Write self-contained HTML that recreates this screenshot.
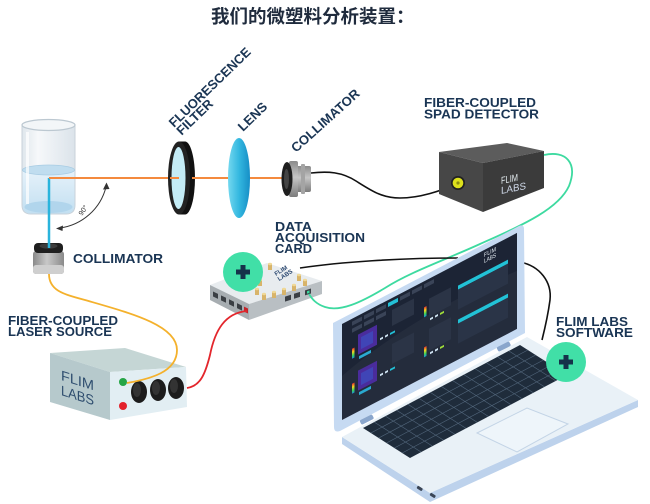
<!DOCTYPE html>
<html><head><meta charset="utf-8">
<style>
html,body{margin:0;padding:0;background:#fff;}
svg{display:block;}
.l{font-family:"Liberation Sans",Arial,sans-serif;font-weight:bold;fill:#1a3554;}
</style></head><body>
<svg width="650" height="504" viewBox="0 0 650 504" xmlns="http://www.w3.org/2000/svg">
<defs>
<linearGradient id="lens" x1="0" x2="1" y1="0" y2="0"><stop offset="0" stop-color="#74d8ef"/><stop offset="0.5" stop-color="#34b8e0"/><stop offset="1" stop-color="#168ec6"/></linearGradient>
<linearGradient id="glass" x1="0" x2="1"><stop offset="0" stop-color="#dfe6ec"/><stop offset="0.3" stop-color="#f6f8fa"/><stop offset="1" stop-color="#dbe3ea"/></linearGradient>
<linearGradient id="water" x1="0" y1="0" x2="0" y2="1"><stop offset="0" stop-color="#e6f2fa"/><stop offset="1" stop-color="#c2dff1"/></linearGradient>
<linearGradient id="coll" x1="0" y1="0" x2="0" y2="1"><stop offset="0" stop-color="#8a8a8a"/><stop offset="0.45" stop-color="#c6c6c6"/><stop offset="1" stop-color="#7c7c7c"/></linearGradient>
<linearGradient id="collv" x1="0" y1="0" x2="1" y2="0"><stop offset="0" stop-color="#8a8a8a"/><stop offset="0.45" stop-color="#c8c8c8"/><stop offset="1" stop-color="#8a8a8a"/></linearGradient>
<linearGradient id="rb" x1="0" y1="0" x2="0" y2="1"><stop offset="0" stop-color="#e83030"/><stop offset="0.35" stop-color="#f2d21c"/><stop offset="0.7" stop-color="#3bd35a"/><stop offset="1" stop-color="#1b8fd8"/></linearGradient>
</defs>

<!-- Title -->
<text x="211" y="23" font-family="'Liberation Sans','Noto Sans CJK SC',sans-serif" font-weight="bold" font-size="18.5" fill="#1f2b3d">我们的微塑料分析装置：</text>

<!-- Beaker -->
<path d="M22,125 L22,205 Q22,214 31,214 L66,214 Q75,214 75,205 L75,125 Z" fill="url(#glass)" stroke="#c8d2da" stroke-width="1"/>
<path d="M22.5,170 L22.5,205 Q22.5,213.5 31,213.5 L66,213.5 Q74.5,213.5 74.5,205 L74.5,170 Z" fill="url(#water)"/>
<ellipse cx="48.5" cy="207" rx="24" ry="6" fill="#b1d5ec"/>
<ellipse cx="48.5" cy="170" rx="26" ry="5" fill="#c0ddef" stroke="#a8cce3" stroke-width="0.8"/>
<ellipse cx="48.5" cy="125" rx="26.5" ry="5.5" fill="#f3f6f8" stroke="#bcc8d1" stroke-width="1.2"/>
<rect x="26" y="132" width="3" height="72" fill="#ffffff" opacity="0.7"/>

<!-- Bottom collimator -->
<rect x="33" y="251" width="31" height="23" rx="3" fill="url(#collv)"/>
<rect x="33" y="265" width="31" height="9" rx="3" fill="#cfcfcf"/>
<rect x="34" y="243" width="29" height="10" rx="4" fill="#1f1f1f"/>
<ellipse cx="48.5" cy="246" rx="9" ry="2.6" fill="#3d3d3d"/>

<!-- Beams -->
<line x1="49" y1="178" x2="49" y2="248" stroke="#2ab4dc" stroke-width="2.5"/>
<line x1="49" y1="178" x2="180" y2="178" stroke="#f48a3e" stroke-width="2"/>

<!-- 90 deg arc -->
<path d="M60,228 A55,55 0 0 0 106,187" fill="none" stroke="#333" stroke-width="1"/>
<polygon points="56,228.5 63,225.5 62.5,231" fill="#333"/>
<polygon points="106.5,182.5 103,189.5 109.5,189" fill="#333"/>
<text x="0" y="0" font-family="Liberation Sans,sans-serif" font-size="7" fill="#333" transform="translate(82,216) rotate(-55)">90°</text>

<!-- Filter -->
<ellipse cx="185" cy="178" rx="10" ry="36.5" fill="#111"/>
<rect x="179" y="141.5" width="6" height="73" fill="#111"/>
<ellipse cx="179" cy="178" rx="11" ry="36.5" fill="#222"/>
<ellipse cx="178.5" cy="178" rx="7" ry="31" fill="#c4ecf6"/>
<line x1="170" y1="178" x2="179" y2="178" stroke="#f48a3e" stroke-width="2"/>
<line x1="192" y1="178" x2="239" y2="178" stroke="#f48a3e" stroke-width="2"/>

<!-- Lens -->
<ellipse cx="239" cy="178" rx="11" ry="40" fill="url(#lens)"/>
<line x1="250" y1="178" x2="285" y2="178" stroke="#f48a3e" stroke-width="2"/>

<!-- Right collimator -->
<rect x="290" y="166" width="21" height="26" rx="2" fill="url(#coll)"/>
<rect x="289" y="161" width="9" height="36" rx="2" fill="url(#coll)"/>
<rect x="301" y="164" width="4" height="30" rx="1" fill="#a4a4a4"/>
<ellipse cx="287" cy="179" rx="5.5" ry="17" fill="#1e1e1e"/>
<ellipse cx="286.5" cy="179" rx="2.5" ry="10" fill="#444"/>

<!-- Black cable collimator -> detector -->
<path d="M311,173 C328,171 342,172 356,181 C372,191 382,198 400,198 C420,198 440,191 457,184" fill="none" stroke="#111" stroke-width="1.6"/>

<!-- Detector -->
<polygon points="439,152 507,143 544,151 483,163" fill="#5c5c5c"/>
<polygon points="439,152 483,163 483,212 439,194" fill="#474747"/>
<polygon points="483,163 544,151 544,188 483,212" fill="#3b3b3b"/>
<circle cx="458" cy="183" r="7" fill="#222"/>
<circle cx="458" cy="183" r="5.3" fill="#dde11c"/>
<circle cx="458" cy="183" r="1.6" fill="#8a8d10"/>
<g transform="translate(501,184) skewY(-11)" font-family="Liberation Sans,sans-serif" font-size="10" fill="#e6eef2">
<text x="0" y="0" textLength="17" lengthAdjust="spacingAndGlyphs">FLIM</text>
<text x="0" y="10" textLength="25" lengthAdjust="spacingAndGlyphs" fill="#cfd8e8">LABS</text>
</g>

<!-- Laser source -->
<polygon points="50,353 125,348 186,367 110,372" fill="#c5d6d5"/>
<polygon points="50,353 110,372 110,420 50,402" fill="#b6c9cc"/>
<polygon points="110,372 186,367 187,407 110,420" fill="#e2eef3"/>
<g transform="translate(61,380) skewY(17.5)" font-family="Liberation Sans,sans-serif" font-size="14" fill="#2e4d6e">
<text x="0" y="0" textLength="33" lengthAdjust="spacingAndGlyphs">FLIM</text>
<text x="0" y="15" textLength="33" lengthAdjust="spacingAndGlyphs">LABS</text>
</g>
<circle cx="123" cy="382" r="4" fill="#25a546"/>
<circle cx="123" cy="406" r="4" fill="#e3212b"/>
<ellipse cx="139" cy="392" rx="8" ry="11" fill="#1c1c1c"/>
<ellipse cx="158" cy="390" rx="8" ry="11" fill="#1c1c1c"/>
<ellipse cx="176" cy="388" rx="8" ry="11" fill="#1c1c1c"/>
<ellipse cx="137" cy="390" rx="4" ry="7" fill="#333"/>
<ellipse cx="156" cy="388" rx="4" ry="7" fill="#333"/>
<ellipse cx="174" cy="386" rx="4" ry="7" fill="#333"/>

<!-- Data card -->
<polygon points="210,285 267,263 322,281 249,304" fill="#e8ecef"/>
<polygon points="210,285 249,304 249,320 210,300" fill="#a7adb1"/>
<polygon points="249,304 322,281 322,294 249,320" fill="#b9bfc3"/>
<g transform="translate(210,285) skewY(26)">
<rect x="3" y="5" width="5" height="5" fill="#3b3f44"/>
<rect x="11" y="5" width="5" height="5" fill="#3b3f44"/>
<rect x="19" y="5" width="5" height="5" fill="#3b3f44"/>
<rect x="27" y="5" width="5" height="5" fill="#3b3f44"/>
<rect x="34" y="5" width="4" height="5" fill="#c4242a"/>
</g>
<g transform="translate(249,304) skewY(-17.5)">
<rect x="36" y="4" width="6" height="5" fill="#3b3f44"/>
<rect x="45" y="4" width="6" height="5" fill="#3b3f44"/>
<rect x="56" y="4" width="6" height="5" fill="#3b3f44"/>
<rect x="58" y="5.5" width="2.5" height="2.5" fill="#3ddaa0"/>
</g>
<g transform="translate(276,276) rotate(-32)" font-family="Liberation Sans,sans-serif" font-size="6" font-weight="bold" fill="#2a4770">
<text x="0" y="0">FLIM</text><text x="0" y="6">LABS</text>
</g>
<g fill="#d8b46a">
<rect x="268" y="264" width="4" height="6"/><rect x="297" y="275" width="4" height="6"/><rect x="303" y="280" width="4" height="6"/>
<rect x="292" y="285" width="4" height="6"/><rect x="282" y="289" width="4" height="6"/><rect x="272" y="292" width="4" height="6"/>
<rect x="262" y="294" width="4" height="6"/><rect x="255" y="289" width="4" height="6"/><rect x="258" y="280" width="4" height="6"/>
</g>
<g fill="#f0d998">
<ellipse cx="270" cy="264" rx="2" ry="1.2"/><ellipse cx="299" cy="275" rx="2" ry="1.2"/><ellipse cx="305" cy="280" rx="2" ry="1.2"/>
<ellipse cx="294" cy="285" rx="2" ry="1.2"/><ellipse cx="284" cy="289" rx="2" ry="1.2"/><ellipse cx="274" cy="292" rx="2" ry="1.2"/>
<ellipse cx="264" cy="294" rx="2" ry="1.2"/><ellipse cx="257" cy="289" rx="2" ry="1.2"/><ellipse cx="260" cy="280" rx="2" ry="1.2"/>
</g>

<!-- Cables -->
<path d="M49,274 C49,290 62,294 85,300 C130,313 177,325 177,350 C177,372 150,379 127,383" fill="none" stroke="#f4b12c" stroke-width="1.8"/>
<path d="M187,388 C200,386 205,375 210,355 C215,330 225,313 247,311" fill="none" stroke="#e3262c" stroke-width="1.8"/>
<path d="M544,155 C566,150 578,163 569,186 C558,210 520,226 480,244 C445,260 410,272 385,288 C360,303 340,312 325,307 C316,304 312,299 309,294" fill="none" stroke="#3ddaa0" stroke-width="1.8"/>
<path d="M300,268 C340,262 400,258 458,258" fill="none" stroke="#111" stroke-width="1.6"/>
<path d="M520,262 C540,266 552,282 550,300 C548,315 545,328 542,340" fill="none" stroke="#111" stroke-width="1.6"/>

<!-- Laptop lid -->
<path d="M333,323 L519,226 Q524,224 524,229 L525,333 L340,431 Q334,433 334,427 Z" fill="#c6daf2"/>
<g transform="translate(342,324) skewY(-27.5)">
<rect width="175" height="96" fill="#1c2435"/>
<path d="M0,52 Q70,28 175,38 L175,96 L0,96Z" fill="#ffffff" opacity="0.04"/>
<g fill="#3a4458">
<rect x="10" y="3" width="10" height="4"/><rect x="22" y="3" width="10" height="4"/><rect x="34" y="3" width="10" height="4"/>
<rect x="58" y="3" width="10" height="4"/><rect x="70" y="3" width="10" height="4"/><rect x="82" y="3" width="10" height="4"/>
<rect x="10" y="10" width="10" height="4"/><rect x="22" y="10" width="10" height="4"/><rect x="34" y="10" width="10" height="4"/>
</g>
<rect x="46" y="3" width="10" height="4" fill="#23c0d6"/>
<rect x="16" y="19" width="19" height="20" fill="#4a2c9c"/>
<rect x="19" y="23" width="12" height="12" fill="#3a57c8" opacity="0.6"/>
<rect x="16" y="55" width="19" height="20" fill="#4a2c9c"/>
<rect x="19" y="59" width="12" height="12" fill="#3a57c8" opacity="0.6"/>
<rect x="17" y="41" width="12" height="3" fill="#2aa9d0"/>
<rect x="17" y="77" width="12" height="3" fill="#2aa9d0"/>
<rect x="10" y="30" width="2.5" height="10" fill="url(#rb)"/>
<rect x="10" y="65" width="2.5" height="10" fill="url(#rb)"/>
<rect x="82" y="26" width="2.5" height="10" fill="url(#rb)"/>
<rect x="82" y="66" width="2.5" height="10" fill="url(#rb)"/>
<g fill="#2b3446">
<rect x="50" y="12" width="22" height="16"/><rect x="50" y="46" width="22" height="20"/>
<rect x="87" y="20" width="22" height="18"/><rect x="87" y="50" width="22" height="22"/>
</g>
<g fill="#cfe3f2">
<rect x="38" y="34" width="3" height="2"/><rect x="43" y="34" width="3" height="2"/><rect x="48" y="34" width="5" height="2" fill="#23c0d6"/>
<rect x="38" y="70" width="3" height="2"/><rect x="43" y="70" width="3" height="2"/><rect x="48" y="70" width="5" height="2" fill="#23c0d6"/>
<rect x="88" y="40" width="3" height="2"/><rect x="93" y="40" width="3" height="2"/><rect x="98" y="40" width="4" height="2" fill="#9fdc3a"/>
<rect x="88" y="74" width="3" height="2"/><rect x="93" y="74" width="3" height="2"/><rect x="98" y="74" width="4" height="2" fill="#9fdc3a"/>
</g>
<rect x="116" y="22" width="50" height="4" fill="#22c2d6"/>
<rect x="116" y="26" width="50" height="20" fill="#2a3447"/>
<rect x="116" y="56" width="50" height="4" fill="#22c2d6"/>
<rect x="116" y="60" width="50" height="20" fill="#2a3447"/>
<g font-family="Liberation Sans,sans-serif" font-size="6" fill="#e6eef5">
<text x="142" y="7" textLength="12" lengthAdjust="spacingAndGlyphs">FLIM</text>
<text x="142" y="13" textLength="12" lengthAdjust="spacingAndGlyphs">LABS</text>
</g>
</g>

<!-- Laptop deck -->
<polygon points="342,437 430,493 638,400 638,407 430,502 342,444" fill="#bdd2ec"/>
<polygon points="342,437 527,337 638,400 430,493" fill="#e9f1f7"/>
<rect x="417" y="487" width="6" height="3" rx="1" fill="#3a4556" transform="rotate(33 420 488)"/>
<rect x="430" y="494" width="6" height="3" rx="1" fill="#3a4556" transform="rotate(33 433 495)"/>
<rect x="360" y="417" width="14" height="5" rx="1.5" fill="#8aa6cc" transform="rotate(-27 367 420)"/>
<rect x="497" y="344" width="14" height="5" rx="1.5" fill="#8aa6cc" transform="rotate(-27 504 347)"/>
<!-- Keyboard -->
<g transform="matrix(1.1214,-0.5929,0.7833,0.5,363,428)">
<rect width="140" height="60" fill="#1f2c3b"/>
<path d="M0,10H140M0,20H140M0,30H140M0,40H140M0,50H140 M10,0V60M20,0V60M30,0V60M40,0V60M50,0V60M60,0V60M70,0V60M80,0V60M90,0V60M100,0V60M110,0V60M120,0V60M130,0V60" stroke="#51657a" stroke-width="0.6" vector-effect="non-scaling-stroke" fill="none"/>
</g>
<!-- Touchpad -->
<polygon points="477,433 527,408 568,424 517,452" fill="#eef5fa" stroke="#c3d4e6" stroke-width="1"/>

<!-- Green plus circles -->
<circle cx="243" cy="272" r="20" fill="#41dfa7"/>
<rect x="236" y="269.5" width="14" height="5" fill="#15324a"/>
<rect x="240.5" y="265" width="5" height="14" fill="#15324a"/>
<circle cx="566" cy="362" r="20" fill="#41dfa7"/>
<rect x="559" y="359.5" width="14" height="5" fill="#15324a"/>
<rect x="563.5" y="355" width="5" height="14" fill="#15324a"/>

<!-- Labels -->
<text class="l" x="424" y="107" font-size="12.5" textLength="112" lengthAdjust="spacingAndGlyphs">FIBER-COUPLED</text>
<text class="l" x="424" y="118.5" font-size="12.5" textLength="115" lengthAdjust="spacingAndGlyphs">SPAD DETECTOR</text>
<text class="l" x="8" y="325" font-size="12.5" textLength="110" lengthAdjust="spacingAndGlyphs">FIBER-COUPLED</text>
<text class="l" x="8" y="336" font-size="12.5" textLength="104" lengthAdjust="spacingAndGlyphs">LASER SOURCE</text>
<text class="l" x="73" y="263" font-size="13" textLength="90" lengthAdjust="spacingAndGlyphs">COLLIMATOR</text>
<text class="l" x="275" y="231" font-size="12.5" textLength="37" lengthAdjust="spacingAndGlyphs">DATA</text>
<text class="l" x="275" y="242" font-size="12.5" textLength="90" lengthAdjust="spacingAndGlyphs">ACQUISITION</text>
<text class="l" x="275" y="253" font-size="12.5" textLength="37" lengthAdjust="spacingAndGlyphs">CARD</text>
<text class="l" x="556" y="326" font-size="12.5" textLength="72" lengthAdjust="spacingAndGlyphs">FLIM LABS</text>
<text class="l" x="556" y="337" font-size="12.5" textLength="77" lengthAdjust="spacingAndGlyphs">SOFTWARE</text>
<g transform="translate(174,128) rotate(-44)">
<text class="l" x="0" y="0" font-size="13" textLength="108" lengthAdjust="spacingAndGlyphs">FLUORESCENCE</text>
<text class="l" x="0" y="11" font-size="13" textLength="45" lengthAdjust="spacingAndGlyphs">FILTER</text>
</g>
<text class="l" x="0" y="0" font-size="13" textLength="35" lengthAdjust="spacingAndGlyphs" transform="translate(243,132) rotate(-44)">LENS</text>
<text class="l" x="0" y="0" font-size="13" textLength="87" lengthAdjust="spacingAndGlyphs" transform="translate(296,153) rotate(-42)">COLLIMATOR</text>
</svg>
</body></html>
